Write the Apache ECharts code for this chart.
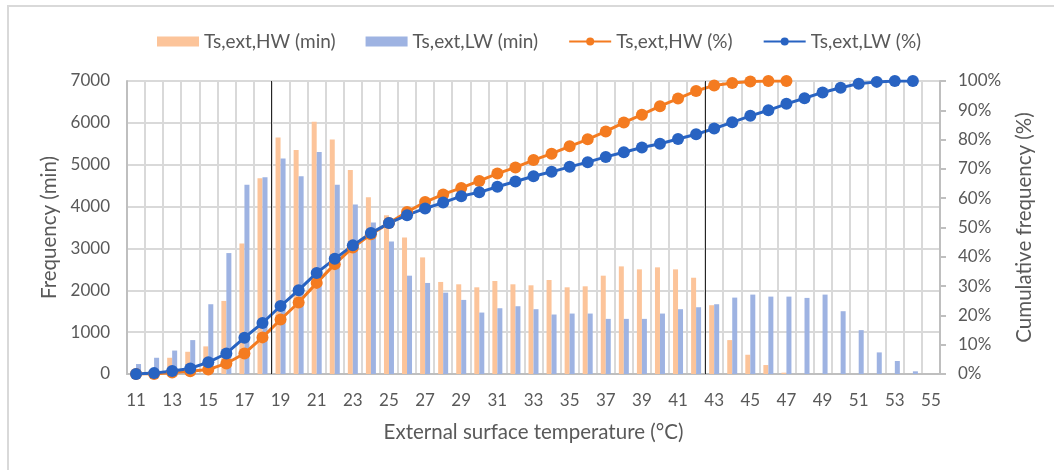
<!DOCTYPE html>
<html>
<head>
<meta charset="utf-8">
<script src="https://cdn.jsdelivr.net/npm/echarts@6/dist/echarts.min.js"></script>
<style>
  html, body { margin: 0; padding: 0; background: #fff; }
  #chart { width: 1054px; height: 470px; }
  #frame { position: absolute; left: 7px; top: 5px; width: 1100px; height: 500px;
           border-left: 2px solid #d9d9d9; border-top: 2px solid #d9d9d9; pointer-events: none; }
</style>
</head>
<body>
<div id="chart"></div>
<div id="frame"></div>
<script>
// Categories: external surface temperature (°C)
const categories = ['11','12','13','14','15','16','17','18','19','20','21','22','23','24','25','26','27','28','29','30',
  '31','32','33','34','35','36','37','38','39','40','41','42','43','44','45','46','47','48','49','50',
  '51','52','53','54','55'];

// Frequency (min), HW
const hwMin = [20, 60, 388, 531, 660, 1746, 3119, 4675, 5651, 5349, 6024, 5603, 4873, 4222, 3794, 3262, 2786, 2199, 2143, 2071,
  2222, 2143, 2119, 2246, 2071, 2095, 2349, 2571, 2500, 2548, 2500, 2300, 1643, 810, 460, 214, 32, 0, 0, 0,
  0, 0, 0, 0, 0];

// Frequency (min), LW
const lwMin = [238, 388, 560, 810, 1667, 2889, 4524, 4698, 5150, 4722, 5302, 4524, 4048, 3619, 3167, 2349, 2175, 1944, 1770, 1468,
  1571, 1619, 1548, 1421, 1444, 1444, 1317, 1317, 1317, 1444, 1548, 1595, 1667, 1825, 1897, 1849, 1849, 1818, 1897, 1500,
  1048, 516, 310, 64, 0];

// Cumulative frequency (%), HW
const hwPct = [0, 0, 0.5, 0.9, 1.5, 3.6, 7.0, 12.5, 18.6, 24.4, 31.1, 37.5, 43.2, 47.7, 51.5, 55.3, 58.7, 61.3, 63.5, 65.9,
  68.4, 70.5, 73.0, 75.2, 77.7, 80.1, 82.8, 85.8, 88.5, 91.4, 94.0, 96.6, 98.5, 99.3, 99.8, 100, 100, null, null, null,
  null, null, null, null, null];

// Cumulative frequency (%), LW
const lwPct = [0, 0.3, 1.0, 1.9, 4.0, 7.0, 12.4, 17.4, 23.2, 28.6, 34.5, 39.3, 43.9, 48.1, 51.5, 54.2, 56.5, 58.5, 60.7, 62.0,
  63.9, 65.7, 67.5, 69.0, 70.7, 72.3, 74.1, 75.7, 77.3, 78.6, 80.2, 81.8, 83.8, 85.9, 88.1, 90.0, 92.2, 94.1, 96.1, 97.7,
  99.1, 99.7, 100, 100, null];

// Reference lines (temperature boundaries)
const refLines = [18.5, 42.5];

const leftTicks = { min: 0, max: 7000, interval: 1000 };
const rightTicks = { min: 0, max: 100, interval: 10 };

const FONT = 'Lato';
const TXT = '#595959';
const GRID = '#d9d9d9';
const AXIS = '#bfbfbf';

const chart = echarts.init(document.getElementById('chart'), null, { renderer: 'canvas' });
chart.setOption({
  animation: false,
  textStyle: { fontFamily: FONT, color: TXT },
  legend: {
    top: 27, left: 152,
    itemWidth: 42, itemHeight: 10, itemGap: 30,
    textStyle: { fontFamily: FONT, fontSize: 19, color: TXT },
    data: [
      { name: 'Ts,ext,HW (min)', icon: 'rect' },
      { name: 'Ts,ext,LW (min)', icon: 'rect' },
      { name: 'Ts,ext,HW (%)' },
      { name: 'Ts,ext,LW (%)' }
    ]
  },
  grid: { left: 127, right: 114, top: 81, bottom: 96 },
  xAxis: [
    {
      type: 'category', data: categories, boundaryGap: true,
      name: 'External surface temperature (°C)', nameLocation: 'middle', nameGap: 48,
      nameTextStyle: { fontFamily: FONT, fontSize: 20.5, color: TXT },
      axisLine: { show: true, lineStyle: { color: AXIS, width: 2 } },
      axisTick: { show: false },
      axisLabel: { interval: 1, margin: 18, fontFamily: FONT, fontSize: 17, color: TXT },
      splitLine: { show: true, interval: 0, lineStyle: { color: GRID, width: 2 } }
    },
    {
      type: 'value', min: 10.5, max: 55.5, show: false
    }
  ],
  yAxis: [
    {
      type: 'value', min: leftTicks.min, max: leftTicks.max, interval: leftTicks.interval,
      name: 'Frequency (min)', nameLocation: 'middle', nameGap: 64, nameRotate: 90,
      nameTextStyle: { fontFamily: FONT, fontSize: 20.5, color: TXT },
      axisLine: { show: true, lineStyle: { color: AXIS, width: 2 } },
      axisTick: { show: false },
      axisLabel: { margin: 17, fontFamily: FONT, fontSize: 17, color: TXT, formatter: v => String(v) },
      splitLine: { show: true, lineStyle: { color: GRID, width: 2 } }
    },
    {
      type: 'value', min: rightTicks.min, max: rightTicks.max, interval: rightTicks.interval,
      position: 'right',
      name: 'Cumulative frequency (%)', nameLocation: 'middle', nameGap: 74, nameRotate: 90,
      nameTextStyle: { fontFamily: FONT, fontSize: 20.5, color: TXT },
      axisLine: { show: true, lineStyle: { color: AXIS, width: 2 } },
      axisTick: { show: true, inside: false, length: 6, lineStyle: { color: AXIS, width: 2 } },
      axisLabel: { margin: 18, fontFamily: FONT, fontSize: 17, color: TXT, formatter: '{value}%' },
      splitLine: { show: false }
    }
  ],
  series: [
    {
      name: 'Ts,ext,HW (min)', type: 'bar', data: hwMin, xAxisIndex: 0, yAxisIndex: 0,
      barWidth: 5, barGap: '0%', itemStyle: { color: '#FCC49A' }
    },
    {
      name: 'Ts,ext,LW (min)', type: 'bar', data: lwMin, xAxisIndex: 0, yAxisIndex: 0,
      barWidth: 5, barGap: '0%', itemStyle: { color: '#9EB3E2' }
    },
    {
      name: 'Ts,ext,HW (%)', type: 'line', data: hwPct, xAxisIndex: 0, yAxisIndex: 1,
      symbol: 'circle', symbolSize: 12, showSymbol: true,
      lineStyle: { color: '#F47B20', width: 3 }, itemStyle: { color: '#F47B20' }
    },
    {
      name: 'Ts,ext,LW (%)', type: 'line', data: lwPct, xAxisIndex: 0, yAxisIndex: 1,
      symbol: 'circle', symbolSize: 12, showSymbol: true,
      lineStyle: { color: '#2863C2', width: 3 }, itemStyle: { color: '#2863C2' }
    },
    {
      name: 'refs', type: 'line', data: [], xAxisIndex: 1, yAxisIndex: 0,
      markLine: {
        silent: true, symbol: ['none', 'none'], label: { show: false },
        lineStyle: { color: '#262626', width: 1, type: 'solid' },
        data: refLines.map(v => ({ xAxis: v }))
      }
    }
  ]
});
</script>
</body>
</html>
